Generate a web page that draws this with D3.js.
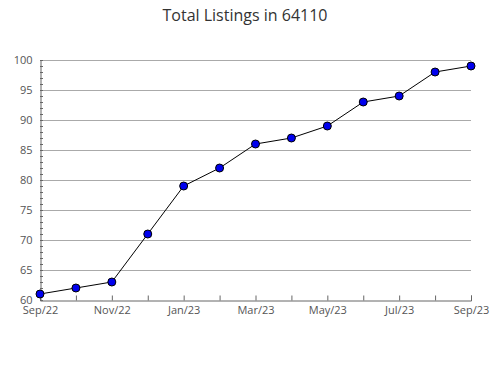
<!DOCTYPE html>
<html><head><meta charset="utf-8">
<script src="https://cdn.jsdelivr.net/npm/d3@7"></script>
<style>body{margin:0;background:#fff}svg{display:block}text{font-family:"Open Sans",sans-serif}</style>
</head><body>
<svg id="c" width="490" height="380"></svg>
<script>
const months = ["Sep/22","Oct/22","Nov/22","Dec/22","Jan/23","Feb/23","Mar/23","Apr/23","May/23","Jun/23","Jul/23","Aug/23","Sep/23"];
const listings = [61,62,63,71,79,82,86,87,89,93,94,98,99];
const yTicks = [60,65,70,75,80,85,90,95,100];
const xLabels = ["Sep/22","Nov/22","Jan/23","Mar/23","May/23","Jul/23","Sep/23"];

const svg = d3.select("#c");
const m = {l:40, r:471, t:60, b:300};
const x = d3.scalePoint().domain(months).range([m.l, m.r]);
const y = d3.scaleLinear().domain([60,100]).range([m.b, m.t]);

svg.append("text").attr("x",245).attr("y",21).attr("text-anchor","middle")
  .attr("font-size",16).attr("fill","#333").text("Total Listings in 64110");

// grid
svg.append("g").selectAll("line").data(yTicks.slice(1)).join("line")
  .attr("x1",m.l).attr("x2",m.r).attr("y1",d=>y(d)+0.5).attr("y2",d=>y(d)+0.5)
  .attr("stroke","#aaa").attr("stroke-width",1);

// minor y ticks
svg.append("g").selectAll("line").data(d3.range(60,101)).join("line")
  .attr("x1",m.l).attr("x2",m.l+3).attr("y1",d=>Math.round(y(d))+0.5).attr("y2",d=>Math.round(y(d))+0.5)
  .attr("stroke","#666");

// y axis
const ya = svg.append("g").attr("transform",`translate(${m.l+0.5},0)`)
  .call(d3.axisLeft(y).tickValues(yTicks).tickSize(0).tickPadding(8));
ya.select(".domain").attr("stroke","#666");
ya.selectAll("text").attr("font-size",11).attr("fill","#555").style("font-family","Open Sans");

// x axis
const xa = svg.append("g").attr("transform",`translate(0,${m.b+0.5})`)
  .call(d3.axisBottom(x).tickSize(-5).tickPadding(4).tickFormat(d=>xLabels.includes(d)?d:""));
xa.select(".domain").attr("stroke","#666");
xa.selectAll(".tick line").attr("stroke","#666");
xa.selectAll("text").attr("font-size",11).attr("fill","#555").attr("dy","0.9em").style("font-family","Open Sans");

// line
svg.append("path").datum(listings)
  .attr("d", d3.line().x((d,i)=>x(months[i])).y(d=>y(d)))
  .attr("fill","none").attr("stroke","#000").attr("stroke-width",1);

svg.append("g").selectAll("circle").data(listings).join("circle")
  .attr("cx",(d,i)=>x(months[i])).attr("cy",d=>y(d)).attr("r",4)
  .attr("fill","#0000ee").attr("stroke","#000").attr("stroke-width",1);
</script>
</body></html>
